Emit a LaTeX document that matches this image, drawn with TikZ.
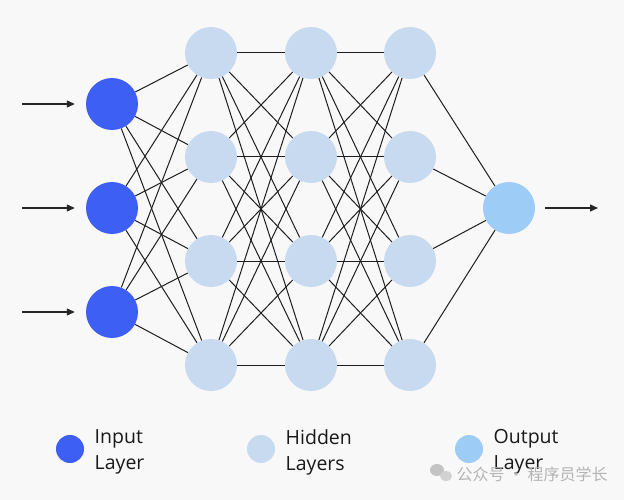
\documentclass[tikz,border=0pt]{standalone}
\usepackage{fontspec}
\setmainfont{Open Sans}
\newfontfamily\cjkfont{Noto Sans CJK SC}
\definecolor{bggray}{HTML}{F8F8F8}
\definecolor{inblue}{HTML}{3D5FF4}
\definecolor{hidblue}{HTML}{C8DAF0}
\definecolor{outblue}{HTML}{9DCDF6}
\definecolor{edgegray}{HTML}{1E1E1E}
\definecolor{wmgray}{HTML}{B4B4B4}
\usetikzlibrary{arrows.meta,positioning}
\tikzset{
  neuron/.style={circle,minimum size=52pt,inner sep=0pt},
  inN/.style={neuron,fill=inblue},
  hidN/.style={neuron,fill=hidblue},
  outN/.style={neuron,fill=outblue},
  conn/.style={edgegray,line width=1pt},
  flow/.style={-{Triangle[length=8pt,width=7pt]},line width=1.1pt,black!85},
  legdot/.style={circle,minimum size=28pt,inner sep=0pt},
  legtxt/.style={anchor=west,align=left,font=\fontsize{19.5}{26}\selectfont,text=black!90},
}
\begin{document}
\begin{tikzpicture}[x=1pt,y=-1pt]
  \fill[bggray] (0,0) rectangle (624,500);
  \useasboundingbox (0,0) rectangle (624,500);
  % input layer
  \foreach \i/\y in {1/104,2/208,3/312}{
    \node[inN] (in\i) at (112,\y) {};
    \coordinate (src\i) at (22,\y);
  }
  % hidden layers
  \foreach \i/\y in {1/53,2/157,3/261,4/365}{
    \node[hidN] (ha\i) at (211,\y) {};
    \node[hidN] (hb\i) at (311,\y) {};
    \node[hidN] (hc\i) at (410,\y) {};
  }
  % output layer
  \node[outN] (out) at (509,208) {};
  \coordinate (sink) at (598,208);
  % connections
  \foreach \i in {1,2,3}
    \foreach \j in {1,...,4}
      \draw[conn] (in\i) -- (ha\j);
  \foreach \i in {1,...,4}
    \foreach \j in {1,...,4}{
      \draw[conn] (ha\i) -- (hb\j);
      \draw[conn] (hb\i) -- (hc\j);
    }
  \foreach \i in {1,...,4}
    \draw[conn] (hc\i) -- (out);
  % arrows in and out
  \foreach \i in {1,2,3}
    \draw[flow] (src\i) -- ([xshift=-11pt]in\i.west);
  \draw[flow] ([xshift=10pt]out.east) -- (sink);
  % legend
  \node[legdot,fill=inblue] (lgin) at (70,449) {};
  \node[legtxt,right=7pt of lgin,yshift=-3pt] (lgintxt) {Input\\Layer};
  \node[legdot,fill=hidblue] (lghid) at (261,449) {};
  \node[legtxt,right=7pt of lghid,yshift=-3pt] (lghidtxt) {Hidden\\Layers};
  \node[legdot,fill=outblue] (lgout) at (469,449) {};
  \node[legtxt,right=7pt of lgout,yshift=-3pt] (lgouttxt) {Output\\Layer};
  % watermark
  \fill[wmgray!80] (437,470) ellipse (7pt and 6pt);
  \fill[wmgray!60] (446,476) ellipse (6pt and 5pt);
  \node[anchor=west,text=wmgray,font=\cjkfont\fontsize{16}{16}\selectfont] (wmark) at (453,474) {公众号 · 程序员学长};
\end{tikzpicture}
\end{document}
